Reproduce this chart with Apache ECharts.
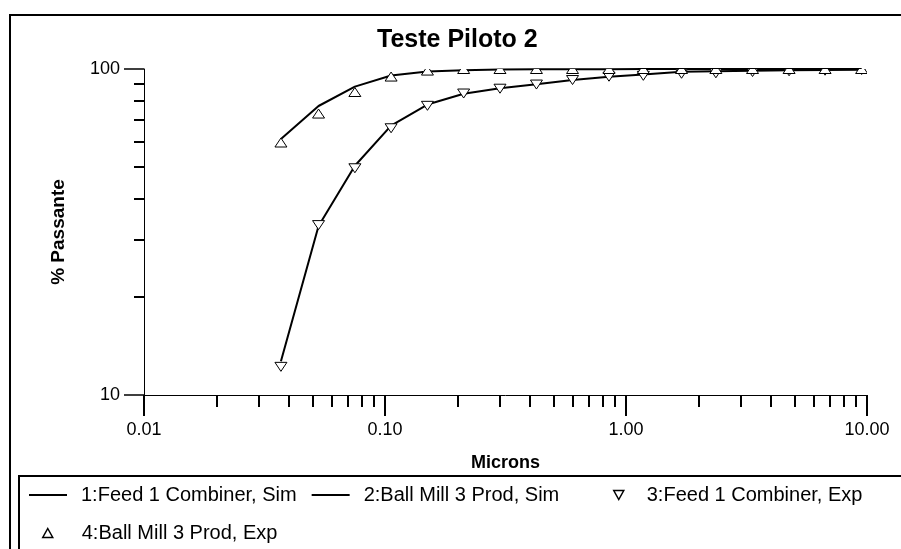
<!DOCTYPE html>
<html>
<head>
<meta charset="utf-8">
<title>Teste Piloto 2</title>
<script src="https://cdn.jsdelivr.net/npm/echarts@6/dist/echarts.min.js"></script>
<style>
  html, body { margin: 0; padding: 0; background: #fff; }
  #chart { width: 901px; height: 549px; }
</style>
</head>
<body>
<div id="chart"></div>
<script>
// sieve sizes (x) and % passing values
const sizes = [0.037, 0.053, 0.075, 0.106, 0.15, 0.212, 0.3, 0.425, 0.6, 0.85, 1.18, 1.7, 2.36, 3.35, 4.75, 6.7, 9.5];
const feedSim = [12.7, 33.0, 50.5, 67.0, 77.8, 84.0, 87.3, 89.8, 92.6, 94.6, 96.2, 98.0, 98.4, 98.8, 99.1, 99.3, 99.5];
const millSim = [61.0, 77.0, 88.3, 95.5, 98.2, 99.2, 99.6, 99.8, 99.9, 99.9, 100, 100, 100, 100, 100, 100, 100];
const feedExp = [12.2, 33.2, 49.6, 65.8, 77.1, 84.1, 87.0, 89.6, 92.5, 94.7, 95.3, 96.7, 97.0, 97.9, 98.4, 98.8, 99.3];
const millExp = [59.5, 73.0, 85.0, 94.8, 98.9, 100, 100, 100, 100, 100, 100, 100, 100, 100, 100, 100, 100];

const seriesNames = [
  '1:Feed 1 Combiner, Sim',
  '2:Ball Mill 3 Prod, Sim',
  '3:Feed 1 Combiner, Exp',
  '4:Ball Mill 3 Prod, Exp',
];

// tick values
const xMajor = [0.01, 0.1, 1, 10];
const xMinor = [0.02, 0.03, 0.04, 0.05, 0.06, 0.07, 0.08, 0.09,
  0.2, 0.3, 0.4, 0.5, 0.6, 0.7, 0.8, 0.9, 2, 3, 4, 5, 6, 7, 8, 9];
const yMajor = [10, 100];
const yMinor = [20, 30, 40, 50, 60, 70, 80, 90];

const FONT = "'Liberation Sans', Arial, sans-serif";
const triUp = 'path://M5,0 L10,9 L0,9 Z';
const triDown = 'path://M0,0 L10,0 L5,9 Z';
const dash = 'path://M0,0 L38,0 L38,2 L0,2 Z';

const pairs = (ys) => sizes.map((s, i) => [s, ys[i]]);

/**
 * Triangle marker drawn from the axis scales, clipped by the grid
 */
function triangle(down) {
  return function (params, api) {
    const p = api.coord([api.value(0), api.value(1)]);
    const w = 6;
    const h = 4.5;
    const pts = down
      ? [[p[0] - w, p[1] - h], [p[0] + w, p[1] - h], [p[0], p[1] + h]]
      : [[p[0] - w, p[1] + h], [p[0] + w, p[1] + h], [p[0], p[1] - h]];
    return {
      type: 'polygon',
      shape: {points: pts},
      style: {fill: '#fff', stroke: '#000', lineWidth: 1},
    };
  };
}

function baseAxis(extra) {
  return Object.assign({
    type: 'log',
    logBase: 10,
    splitLine: {show: false},
    minorTick: {show: false},
  }, extra);
}

// one legend block per placement, like the boxed key of the original
function legendAt(left, top, names, extra) {
  return Object.assign({
    left: left,
    top: top,
    padding: 0,
    itemWidth: 38,
    itemHeight: 10,
    itemGap: 15,
    selectedMode: false,
    textStyle: {color: '#000', fontSize: 20, fontFamily: FONT, padding: [0, 0, 0, 9]},
    data: names,
  }, extra);
}

const markStyle = {color: '#fff', borderColor: '#000', borderWidth: 1.5};
const lineKey = {color: '#000', borderWidth: 0};

const chart = echarts.init(document.getElementById('chart'));

const option = {
  animation: false,
  backgroundColor: '#fff',
  title: {
    text: 'Teste Piloto 2',
    left: 377,
    top: 28,
    padding: 0,
    textStyle: {fontSize: 25, fontWeight: 'bold', color: '#000', fontFamily: FONT},
  },
  grid: {left: 144, right: 34, top: 69, bottom: 154, containLabel: false},
  legend: [
    legendAt(29, 485, [
      {name: seriesNames[0], icon: dash, itemStyle: lineKey},
      {name: seriesNames[1], icon: dash, itemStyle: lineKey},
    ]),
    legendAt(613, 485, [{name: seriesNames[2], icon: triDown, itemStyle: markStyle}], {
      itemWidth: 10,
      itemHeight: 9,
      textStyle: {color: '#000', fontSize: 20, fontFamily: FONT, padding: [0, 0, 0, 18]},
    }),
    legendAt(42, 523, [{name: seriesNames[3], icon: triUp, itemStyle: markStyle}], {
      itemWidth: 10,
      itemHeight: 9,
      textStyle: {color: '#000', fontSize: 20, fontFamily: FONT, padding: [0, 0, 0, 24]},
    }),
  ],
  xAxis: [
    baseAxis({
      min: 0.01,
      max: 10,
      position: 'bottom',
      name: 'Microns',
      nameLocation: 'middle',
      nameGap: 59,
      nameTextStyle: {fontSize: 18, fontWeight: 'bold', color: '#000', fontFamily: FONT},
      axisLine: {onZero: false, lineStyle: {color: '#000', width: 1}},
      axisTick: {customValues: xMajor, length: 21, lineStyle: {color: '#000', width: 2}},
      axisLabel: {
        customValues: xMajor,
        margin: 26,
        color: '#000',
        fontSize: 18,
        fontFamily: FONT,
        formatter: (v) => Number(v).toFixed(2),
      },
    }),
    baseAxis({
      min: 0.01,
      max: 10,
      position: 'bottom',
      axisLine: {show: false, onZero: false},
      axisTick: {customValues: xMinor, length: 12, lineStyle: {color: '#000', width: 2}},
      axisLabel: {show: false},
    }),
  ],
  yAxis: [
    baseAxis({
      min: 10,
      max: 100,
      position: 'left',
      name: '% Passante',
      nameLocation: 'middle',
      nameGap: 76,
      nameTextStyle: {fontSize: 19, fontWeight: 'bold', color: '#000', fontFamily: FONT},
      axisLine: {show: true, onZero: false, lineStyle: {color: '#000', width: 1}},
      axisTick: {customValues: yMajor, length: 20, lineStyle: {color: '#000', width: 1.5}},
      axisLabel: {
        customValues: yMajor,
        margin: 24,
        color: '#000',
        fontSize: 18,
        fontFamily: FONT,
        formatter: (v) => String(Math.round(v)),
      },
    }),
    baseAxis({
      min: 10,
      max: 100,
      position: 'left',
      axisLine: {show: false, onZero: false},
      axisTick: {customValues: yMinor, length: 10, lineStyle: {color: '#000', width: 2}},
      axisLabel: {show: false},
    }),
  ],
  graphic: [
    // outer frame and legend box
    {type: 'rect', shape: {x: 10, y: 15, width: 900, height: 560},
      style: {fill: 'none', stroke: '#000', lineWidth: 2}, silent: true},
    {type: 'rect', shape: {x: 19, y: 476, width: 900, height: 100},
      style: {fill: 'none', stroke: '#000', lineWidth: 2}, silent: true},
  ],
  series: [
    {
      name: seriesNames[0],
      type: 'line',
      data: pairs(feedSim),
      symbol: 'none',
      lineStyle: {color: '#000', width: 2},
      itemStyle: {color: '#000'},
      z: 2,
    },
    {
      name: seriesNames[1],
      type: 'line',
      data: pairs(millSim),
      symbol: 'none',
      lineStyle: {color: '#000', width: 2},
      itemStyle: {color: '#000'},
      z: 2,
    },
    {
      name: seriesNames[2],
      type: 'custom',
      data: pairs(feedExp),
      encode: {x: 0, y: 1},
      clip: true,
      renderItem: triangle(true),
      itemStyle: markStyle,
      z: 3,
    },
    {
      name: seriesNames[3],
      type: 'custom',
      data: pairs(millExp),
      encode: {x: 0, y: 1},
      clip: true,
      renderItem: triangle(false),
      itemStyle: markStyle,
      z: 4,
    },
  ],
};

chart.setOption(option);
</script>
</body>
</html>
